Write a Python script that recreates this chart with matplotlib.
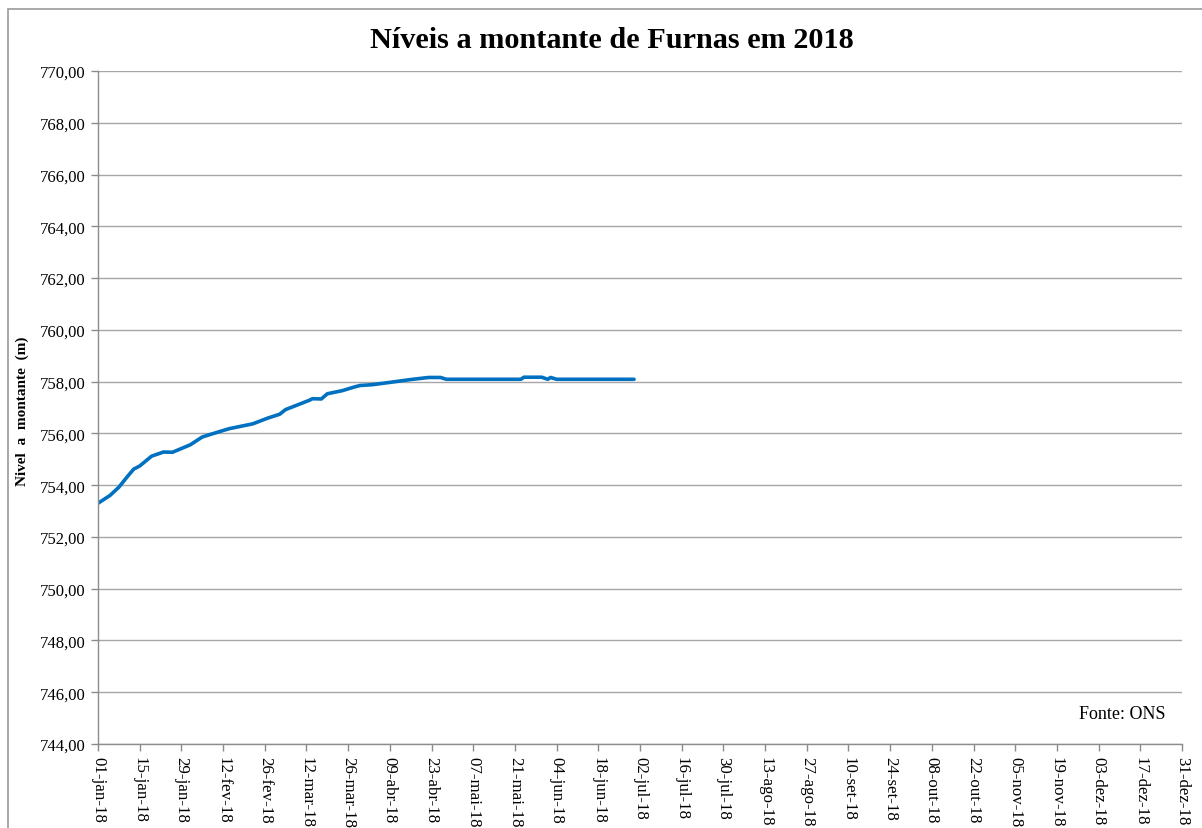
import matplotlib
matplotlib.use("Agg")
import matplotlib.pyplot as plt
from matplotlib.patches import Rectangle
import numpy as np
from datetime import datetime, timedelta

# ---- data ----
dates = ["2018-01-01", "2018-01-05", "2018-01-08", "2018-01-11", "2018-01-13",
         "2018-01-15", "2018-01-19", "2018-01-23", "2018-01-26", "2018-02-01",
         "2018-02-05", "2018-02-08", "2018-02-14", "2018-02-22", "2018-02-27",
         "2018-03-03", "2018-03-05", "2018-03-13", "2018-03-14", "2018-03-17",
         "2018-03-19", "2018-03-24", "2018-03-28", "2018-03-30", "2018-04-03",
         "2018-04-09", "2018-04-16", "2018-04-22", "2018-04-26", "2018-04-28",
         "2018-05-23", "2018-05-24", "2018-05-30", "2018-06-01", "2018-06-02",
         "2018-06-04", "2018-06-30"]
levels = [753.30, 753.60, 753.92, 754.35, 754.62,
          754.74, 755.12, 755.28, 755.27, 755.56,
          755.86, 755.97, 756.18, 756.37, 756.59,
          756.74, 756.92, 757.28, 757.34, 757.33,
          757.53, 757.65, 757.79, 757.85, 757.88,
          757.97, 758.08, 758.16, 758.16, 758.09,
          758.09, 758.17, 758.17, 758.09, 758.16,
          758.09, 758.09]
month_abbr = ["jan", "fev", "mar", "abr", "mai", "jun",
              "jul", "ago", "set", "out", "nov", "dez"]
title = "Níveis a montante de Furnas em 2018"
ylabel = "Nivel  a  montante  (m)"
source = "Fonte: ONS"

# ---- style ----
plt.rcParams['font.family'] = ['Liberation Serif', 'DejaVu Serif']

W, H = 1202, 829
fig = plt.figure(figsize=(W / 100, H / 100), dpi=100)
fig.patch.set_facecolor("white")

# outer border
fig.patches.append(Rectangle((8 / W, -0.01), 1.2, 1 - 10 / H + 0.01,
                             transform=fig.transFigure, fill=False,
                             edgecolor="#9a9a9a", linewidth=1.2))

ax = fig.add_axes([98 / W, 84 / H, (1182 - 98) / W, (745 - 72) / H])

x = [datetime.strptime(d, "%Y-%m-%d") for d in dates]
ax.plot(x, levels, color="#0070C0", linewidth=2.6, solid_capstyle="round",
        solid_joinstyle="round")

start = datetime(2018, 1, 1)
end = datetime(2018, 12, 31)
ax.set_xlim(start, end)
ax.set_ylim(744, 770)

ticks = [start + timedelta(days=14 * i) for i in range(27)]
ax.set_xticks(ticks)
ax.set_xticklabels([f"{t.day:02d}-{month_abbr[t.month - 1]}-18" for t in ticks],
                   rotation=270, fontsize=12.2, va="top", ha="center")
yt = np.arange(744, 771, 2)
ax.set_yticks(yt)
ax.set_yticklabels([f"{v:.2f}".replace(".", ",") for v in yt], fontsize=12)

ax.grid(axis="y", color="#a6a6a6", linewidth=1.0)
ax.set_axisbelow(True)
for s in ["top", "right"]:
    ax.spines[s].set_visible(False)
for s in ["left", "bottom"]:
    ax.spines[s].set_color("#8c8c8c")
    ax.spines[s].set_linewidth(1.0)
ax.tick_params(axis="both", direction="out", length=5, width=1.0,
               color="#8c8c8c", labelcolor="black")
ax.tick_params(axis="y", pad=4)
ax.tick_params(axis="x", pad=4)

fig.text(612 / W, 1 - 40 / H, title, ha="center", va="center",
         fontsize=21.8, fontweight="bold")
fig.text(22 / W, 1 - 411 / H, ylabel, rotation=90, ha="center", va="center",
         fontsize=11, fontweight="bold")
ax.text(0.985, 0.045, source, transform=ax.transAxes, ha="right", va="center",
        fontsize=13)

fig.savefig("out.png", dpi=100)
